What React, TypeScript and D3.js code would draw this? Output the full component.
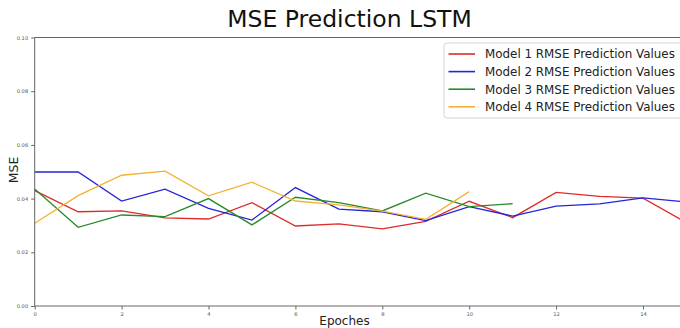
import React, { useEffect, useRef } from 'react';
import * as d3 from 'd3';

// values
const model1 = [0.043, 0.0351, 0.0354, 0.0328, 0.0324, 0.0385, 0.0298, 0.0306, 0.0287, 0.0315, 0.039, 0.0329, 0.0423, 0.0408, 0.0402, 0.031];
const model2 = [0.0499, 0.0499, 0.0391, 0.0435, 0.0364, 0.032, 0.0441, 0.0361, 0.0351, 0.0318, 0.037, 0.0335, 0.0372, 0.038, 0.0403, 0.0387];
const model3 = [0.0436, 0.0293, 0.0339, 0.0333, 0.04, 0.0302, 0.0405, 0.0385, 0.0354, 0.042, 0.037, 0.0381];
const model4 = [0.0308, 0.0411, 0.0487, 0.0502, 0.041, 0.0461, 0.0391, 0.0377, 0.0353, 0.0323, 0.0426];

const seriesNames = [
    'Model 1 RMSE Prediction Values',
    'Model 2 RMSE Prediction Values',
    'Model 3 RMSE Prediction Values',
    'Model 4 RMSE Prediction Values',
];
const seriesColors = ['#e02a2a', '#2424d8', '#2a8a2a', '#f2b233'];
const xTicks = [0, 2, 4, 6, 8, 10, 12, 14];
const yTicks = [0, 0.02, 0.04, 0.06, 0.08, 0.1];

const W = 680;
const H = 328;

const App = () => {
    const ref = useRef<SVGSVGElement>(null);

    useEffect(() => {
        const svg = d3.select(ref.current);
        svg.selectAll('*').remove();

        const left = 34.7, top = 37.5, bottom = 306;
        const x = d3.scaleLinear().domain([0, 15]).range([left, left + 15 * 43.45]);
        const y = d3.scaleLinear().domain([0, 0.1]).range([bottom, top]);

        svg.append('rect').attr('width', W).attr('height', H).attr('fill', 'white');

        // title
        svg.append('text')
            .attr('x', 349.5).attr('y', 27)
            .attr('text-anchor', 'middle')
            .attr('font-family', 'DejaVu Sans')
            .attr('font-size', 23.5)
            .attr('fill', '#111')
            .text('MSE Prediction LSTM');

        // lines
        const line = d3.line<number>()
            .x((d, i) => x(i))
            .y(d => y(d));

        const plot = svg.append('g');
        [model1, model2, model3, model4].forEach((s, k) => {
            plot.append('path')
                .datum(s)
                .attr('d', line)
                .attr('fill', 'none')
                .attr('stroke', seriesColors[k])
                .attr('stroke-width', 1.3);
        });

        // spines
        const spine = '#666';
        svg.append('line').attr('x1', left).attr('x2', left).attr('y1', top).attr('y2', bottom)
            .attr('stroke', spine).attr('stroke-width', 1);
        svg.append('line').attr('x1', left).attr('x2', W + 10).attr('y1', bottom).attr('y2', bottom)
            .attr('stroke', spine).attr('stroke-width', 1);
        svg.append('line').attr('x1', left).attr('x2', W + 10).attr('y1', top).attr('y2', top)
            .attr('stroke', spine).attr('stroke-width', 1);

        // axes ticks
        const xAxis = svg.append('g')
            .attr('transform', `translate(0,${bottom})`)
            .call(d3.axisBottom(x).tickValues(xTicks).tickSize(3.5).tickPadding(2.5).tickFormat(d3.format('d')));
        xAxis.select('.domain').remove();
        xAxis.selectAll('line').attr('stroke', spine);
        xAxis.selectAll('text').attr('fill', '#555').attr('font-size', 5.2).attr('font-family', 'DejaVu Sans');

        const yAxis = svg.append('g')
            .attr('transform', `translate(${left},0)`)
            .call(d3.axisLeft(y).tickValues(yTicks).tickSize(3.5).tickPadding(3).tickFormat(d3.format('.2f')));
        yAxis.select('.domain').remove();
        yAxis.selectAll('line').attr('stroke', spine);
        yAxis.selectAll('text').attr('fill', '#555').attr('font-size', 5.2).attr('font-family', 'DejaVu Sans');

        // axis labels
        svg.append('text')
            .attr('x', 344.5).attr('y', 325)
            .attr('text-anchor', 'middle')
            .attr('font-family', 'DejaVu Sans')
            .attr('font-size', 12)
            .attr('fill', '#222')
            .text('Epoches');

        svg.append('text')
            .attr('transform', 'translate(18,170) rotate(-90)')
            .attr('text-anchor', 'middle')
            .attr('font-family', 'DejaVu Sans')
            .attr('font-size', 12.5)
            .attr('fill', '#222')
            .text('MSE');

        // legend
        const lg = svg.append('g').attr('transform', 'translate(444,43)');
        lg.append('rect')
            .attr('width', 240).attr('height', 75)
            .attr('rx', 3)
            .attr('fill', 'white').attr('fill-opacity', 0.85)
            .attr('stroke', '#d4d4d4');
        seriesNames.forEach((name, k) => {
            const cy = 11 + k * 17.6;
            lg.append('line')
                .attr('x1', 4.5).attr('x2', 31).attr('y1', cy).attr('y2', cy)
                .attr('stroke', seriesColors[k]).attr('stroke-width', 1.6);
            lg.append('text')
                .attr('x', 41).attr('y', cy + 4.4)
                .attr('font-family', 'DejaVu Sans')
                .attr('font-size', 11.9)
                .attr('fill', '#222')
                .text(name);
        });
    }, []);

    return (
        <svg ref={ref} width={W} height={H} style={{ position: 'absolute', left: 0, top: 0 }} />
    );
};

export default App;
